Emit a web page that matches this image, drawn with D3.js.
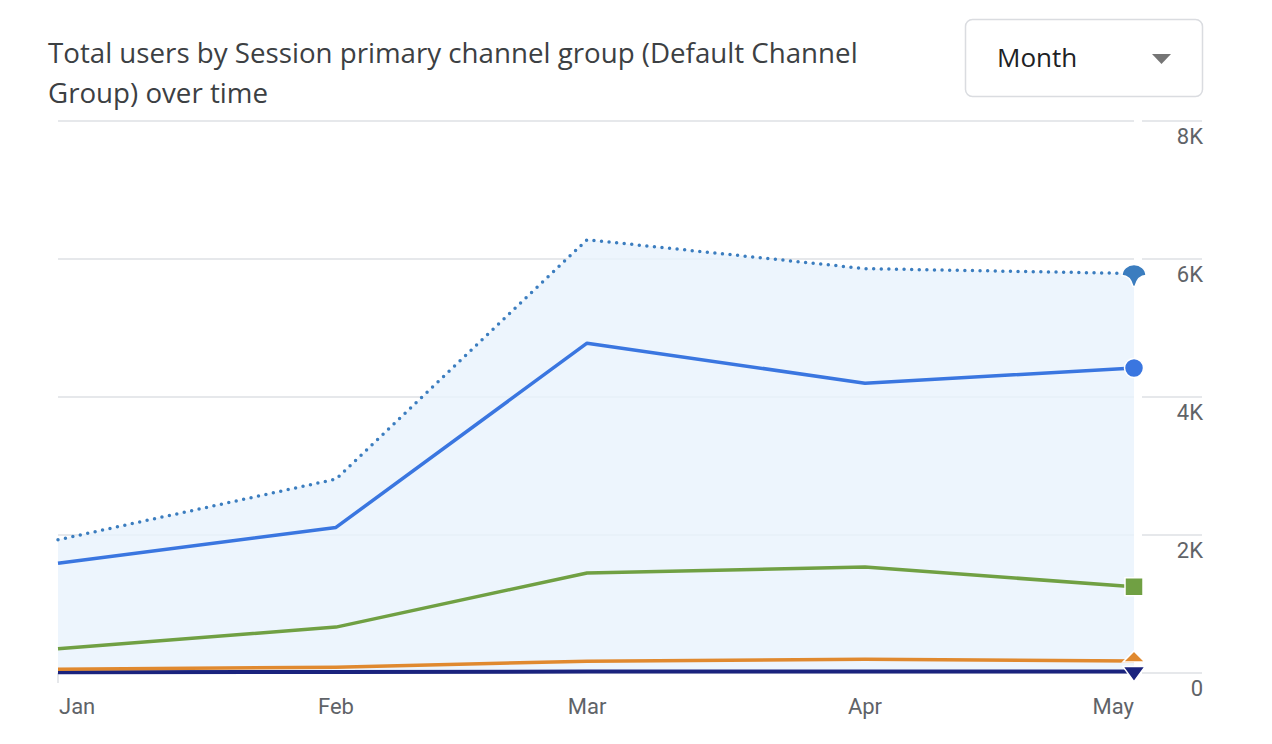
<!DOCTYPE html>
<html>
<head>
<meta charset="utf-8">
<script src="https://cdn.jsdelivr.net/npm/d3@7"></script>
<style>
  html, body { margin: 0; padding: 0; background: #fff; }
  svg { display: block; }
  text { font-family: "Open Sans", Roboto, sans-serif; }
  .tick { font-family: Roboto, "Open Sans", sans-serif; }
</style>
</head>
<body>
<svg id="chart" width="1272" height="744"></svg>
<script>
// ---- Data ----
const months = ["2023-01-01", "2023-02-01", "2023-03-01", "2023-04-01", "2023-05-01"];
const monthLabels = ["Jan", "Feb", "Mar", "Apr", "May"];
const totalUsers = [1930, 2810, 6280, 5860, 5790];     // dotted, filled
const organicSearch = [1590, 2110, 4780, 4200, 4420];  // solid blue
const direct = [350, 665, 1450, 1535, 1250];           // green
const referral = [55, 85, 170, 200, 175];              // orange
const other = [12, 15, 20, 22, 20];                    // navy
const yTicks = [0, 2000, 4000, 6000, 8000];
const yTickLabels = ["0", "2K", "4K", "6K", "8K"];
const titleLines = ["Total users by Session primary channel group (Default Channel", "Group) over time"];
const dropdownLabel = "Month";

// ---- Setup ----
const svg = d3.select("#chart");
const parse = d3.timeParse("%Y-%m-%d");
const dates = months.map(parse);

const x = d3.scaleTime().domain(d3.extent(dates)).range([58, 1134]);
const y = d3.scaleLinear().domain([0, 8000]).range([673, 121]);

// Title
const title = svg.append("g").selectAll("text").data(titleLines).join("text")
  .attr("x", 48).attr("y", (d, i) => 63 + i * 40)
  .attr("font-size", 24).attr("fill", "#3c4043")
  .text(d => d);
const w0 = title.nodes()[0].getComputedTextLength();
title.attr("font-size", 24 * 810 / w0);

// Dropdown
const dd = svg.append("g");
dd.append("rect").attr("x", 965.5).attr("y", 19.5).attr("width", 237).attr("height", 77)
  .attr("rx", 7).attr("fill", "#fff").attr("stroke", "#dadce0").attr("stroke-width", 1.5);
dd.append("text").attr("x", 997).attr("y", 67).attr("font-size", 26).attr("fill", "#202124").text(dropdownLabel);
dd.append("path").attr("d", "M1152,54 L1171,54 L1161.5,64 Z").attr("fill", "#757575");

// Gridlines
const grid = svg.append("g");
grid.selectAll("line.l").data(yTicks).join("line").attr("class", "l")
  .attr("x1", 58).attr("x2", 1134).attr("y1", d => y(d)).attr("y2", d => y(d))
  .attr("stroke", "#e6e8eb").attr("stroke-width", 2);
grid.selectAll("line.r").data(yTicks).join("line").attr("class", "r")
  .attr("x1", 1142).attr("x2", 1202).attr("y1", d => y(d)).attr("y2", d => y(d))
  .attr("stroke", "#e6e8eb").attr("stroke-width", 2);
grid.append("line").attr("x1", 58).attr("x2", 58).attr("y1", y(0)).attr("y2", y(0) + 10)
  .attr("stroke", "#e6e8eb").attr("stroke-width", 2);

// Y tick labels
svg.append("g").selectAll("text").data(yTicks).join("text")
  .attr("class", "tick")
  .attr("x", 1203).attr("y", d => y(d) + 23)
  .attr("text-anchor", "end").attr("font-size", 22).attr("fill", "#5f6368")
  .text((d, i) => yTickLabels[i]);

// X labels
svg.append("g").selectAll("text").data(dates).join("text")
  .attr("class", "tick")
  .attr("x", (d, i) => x(d) + (i === 0 ? 1 : 0)).attr("y", 714)
  .attr("text-anchor", (d, i) => i === 0 ? "start" : (i === dates.length - 1 ? "end" : "middle"))
  .attr("font-size", 22).attr("fill", "#5f6368")
  .text((d, i) => monthLabels[i]);

// Area under total
const area = d3.area().x((d, i) => x(dates[i])).y0(y(0)).y1(d => y(d));
svg.append("path").datum(totalUsers).attr("d", area).attr("fill", "#e8f2fc").attr("fill-opacity", 0.8);

const line = d3.line().x((d, i) => x(dates[i])).y(d => y(d));

function drawLine(data, color, width, dash) {
  const p = svg.append("path").datum(data).attr("d", line)
    .attr("fill", "none").attr("stroke", color).attr("stroke-width", width)
    .attr("stroke-linejoin", "round");
  if (dash) p.attr("stroke-dasharray", dash).attr("stroke-linecap", "round");
  return p;
}

drawLine(other, "#1a237e", 4);
drawLine(referral, "#e0892f", 3.5);
drawLine(direct, "#70a043", 3.5);
drawLine(organicSearch, "#3a76e0", 3.5);
drawLine(totalUsers, "#3b7dbf", 3.5, "0 7.6");

// End markers
const xe = x(dates[dates.length - 1]);
const last = a => y(a[a.length - 1]);

// total: scalloped teardrop marker
const ty = last(totalUsers);
svg.append("path")
  .attr("transform", `translate(${xe},${ty})`)
  .attr("d", "M-12,2 A12,11 0 0 1 12,2 Q4,2 1,13 L-1,13 Q-4,2 -12,2 Z")
  .attr("fill", "#3b7dbf").attr("stroke", "#fff").attr("stroke-width", 1.5);

// organic: circle
svg.append("circle").attr("cx", xe).attr("cy", last(organicSearch)).attr("r", 9.5)
  .attr("fill", "#3a76e0").attr("stroke", "#fff").attr("stroke-width", 1.5);

// direct: square
svg.append("rect").attr("x", xe - 9).attr("y", last(direct) - 9).attr("width", 18).attr("height", 18)
  .attr("fill", "#70a043").attr("stroke", "#fff").attr("stroke-width", 1.5);

// referral: upper triangle
const ry = last(referral);
svg.append("path").attr("transform", `translate(${xe},${ry})`)
  .attr("d", "M0,-10 L11,1 L-11,1 Z")
  .attr("fill", "#e0892f").attr("stroke", "#fff").attr("stroke-width", 1.5);

// other: down triangle
const oy = last(other);
svg.append("path").attr("transform", `translate(${xe},${oy})`)
  .attr("d", "M-11,-5 L11,-5 L0,10 Z")
  .attr("fill", "#1a237e").attr("stroke", "#fff").attr("stroke-width", 1.5);
</script>
</body>
</html>
